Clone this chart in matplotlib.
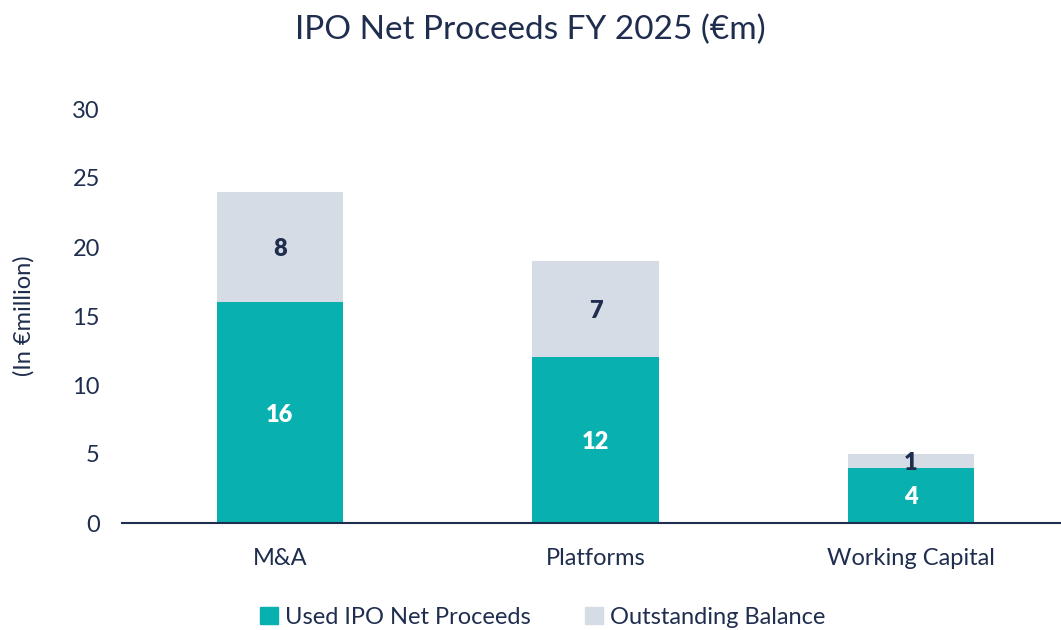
import matplotlib
matplotlib.use("Agg")
import matplotlib.pyplot as plt
from matplotlib.patches import Patch

plt.rcParams['font.family'] = ['Lato', 'DejaVu Sans']

categories = ["M&A", "Platforms", "Working Capital"]
used = [16, 12, 4]
outstanding = [8, 7, 1]
series_names = ["Used IPO Net Proceeds", "Outstanding Balance"]
yticks = [0, 5, 10, 15, 20, 25, 30]

teal = "#08B0AF"
grey = "#D6DCE5"
navy = "#1F2D4E"

fig = plt.figure(figsize=(10.61, 6.3), dpi=100)
ax = fig.add_axes([122/1061, 1 - 523/630, 1 - 122/1061, (523 - 109)/630])

x = list(range(len(categories)))
ax.bar(x, used, width=0.4, color=teal)
ax.bar(x, outstanding, width=0.4, bottom=used, color=grey)

for xi, u, o in zip(x, used, outstanding):
    ax.text(xi, u / 2, str(u), ha='center', va='center_baseline', color='white',
            fontsize=17, fontweight='heavy')
    ax.text(xi, u + o / 2, str(o), ha='center', va='center_baseline', color=navy,
            fontsize=17, fontweight='heavy')

ax.set_xlim(-0.5, 2.475)
ax.set_ylim(0, 30)
ax.set_yticks(yticks)
ax.set_xticks(x)
ax.set_xticklabels(categories)
ax.tick_params(axis='both', length=0, labelsize=17, colors=navy)
ax.tick_params(axis='x', pad=18)
ax.tick_params(axis='y', pad=16)
for s in ['top', 'right', 'left']:
    ax.spines[s].set_visible(False)
ax.spines['bottom'].set_color(navy)
ax.spines['bottom'].set_linewidth(1.5)
ax.set_ylabel("(In €million)", fontsize=17, color=navy, labelpad=27)

fig.text(530/1061, 1 - 30/630, "IPO Net Proceeds FY 2025 (€m)", ha='center', va='center',
         fontsize=24, color=navy)

handles = [Patch(color=teal), Patch(color=grey)]
fig.legend(handles, series_names, loc='center', bbox_to_anchor=(543/1061, 1 - 617/630),
           ncol=2, frameon=False, fontsize=17, labelcolor=navy, handlelength=0.75,
           handleheight=0.75, handletextpad=0.3, columnspacing=2.3)

fig.savefig("out.png", dpi=100)
